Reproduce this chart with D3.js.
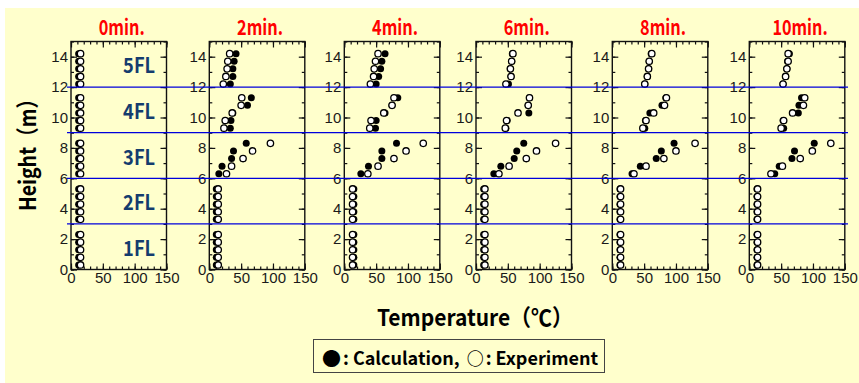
<!DOCTYPE html>
<html>
<head>
<meta charset="utf-8">
<script src="https://cdn.jsdelivr.net/npm/d3@7"></script>
<style>
  html, body { margin: 0; padding: 0; background: #fff; }
  svg { display: block; }
</style>
</head>
<body>
<svg id="chart" width="859" height="383"></svg>
<script>
// Measurement heights (m), bottom to top, five per floor
const heights = [0.3, 0.8, 1.3, 1.8, 2.3,
                 3.3, 3.8, 4.3, 4.8, 5.3,
                 6.3, 6.8, 7.3, 7.8, 8.3,
                 9.3, 9.8, 10.3, 10.8, 11.3,
                 12.2, 12.7, 13.2, 13.7, 14.2];

const panelTitles = ["0min.", "2min.", "4min.", "6min.", "8min.", "10min."];
const floorLabels = ["1FL", "2FL", "3FL", "4FL", "5FL"];
const floorLines = [3, 6, 9, 12];
const xTicks = [0, 50, 100, 150];
const yTicks = [0, 2, 4, 6, 8, 10, 12, 14];

// Temperatures (°C) at each height, calculated
const calc0 = [12,12,12,12,12, 12,12,12,12,12, 12,12,12,12,12, 12,12,12,12,12, 12,12,12,12,12];
const calc2 = [11,11,11,11,11, 11,11,11,11,11, 15,20,35,38,58, 33,34,37,60,66, 33,37,37,39,42];
const calc4 = [15,15,15,15,15, 15,15,15,15,15, 26,38,59,59,82, 49,50,64,75,84, 50,54,57,59,64];
const calc6 = [12,12,12,12,12, 12,12,12,12,12, 28,39,60,64,75, 47,49,83,82,84, 51,55,54,56,57];
const calc8 = [12,12,12,12,12, 12,12,12,12,12, 31,44,69,77,97, 51,52,59,78,84, 51,55,57,58,61];
const calc10 = [12,12,12,12,12, 12,12,12,12,12, 40,47,67,71,102, 54,53,77,78,82, 53,57,59,60,63];

// Temperatures (°C) at each height, measured
const exp0 = [15,15,15,15,15, 15,15,15,15,15, 15,15,15,15,15, 15,15,15,15,15, 15,15,15,15,15];
const exp2 = [14,14,14,14,14, 14,14,14,14,14, 27,35,53,68,96, 23,25,36,50,51, 22,26,28,29,32];
const exp4 = [13,13,13,13,13, 13,13,13,13,13, 37,53,78,97,124, 40,42,62,75,78, 41,46,47,49,53];
const exp6 = [14,14,14,14,14, 14,14,14,14,14, 36,52,79,95,125, 46,48,66,82,84, 47,55,54,56,58];
const exp8 = [13,13,13,13,13, 13,13,13,13,13, 34,53,81,100,130, 48,53,65,82,85, 51,55,57,58,62];
const exp10 = [13,13,13,13,13, 13,13,13,13,13, 34,52,80,99,128, 50,54,68,85,87, 53,57,59,61,61];

const calcSeries = [calc0, calc2, calc4, calc6, calc8, calc10];
const expSeries = [exp0, exp2, exp4, exp6, exp8, exp10];

// ---- layout ----
const svg = d3.select("#chart");
const boldFont = "'Noto Sans CJK JP', 'Noto Sans', sans-serif";
const tickFont = "'Liberation Sans', Arial, sans-serif";
const panelLeft = [71, 209.3, 344.3, 476, 612.3, 749.3];
const panelW = 95.5;

svg.append("rect").attr("x", 5).attr("y", 8).attr("width", 854).attr("height", 375)
  .attr("fill", "#FFFFCC");

const y = d3.scaleLinear().domain([0, 15]).range([269.5, 41.5]);

panelTitles.forEach((title, i) => {
  const x = d3.scaleLinear().domain([0, 150]).range([panelLeft[i], panelLeft[i] + panelW]);
  const g = svg.append("g");

  // minor and major ticks on all four sides, pointing inward
  const minorX = d3.range(0, 151, 10);
  const minorY = d3.range(0, 16, 1);
  const addAxis = (axis, tx, ty) => {
    const a = g.append("g").attr("transform", `translate(${tx},${ty})`).call(axis);
    a.select(".domain").remove();
    a.selectAll("line").attr("stroke", "#111").attr("stroke-width", 1.2);
    a.selectAll("text").attr("font-family", tickFont).attr("font-size", 15).attr("fill", "#1a1a1a");
    return a;
  };
  addAxis(d3.axisBottom(x).tickValues(minorX).tickSizeInner(-3).tickFormat(""), 0, y(0));
  addAxis(d3.axisBottom(x).tickValues(xTicks).tickSizeInner(-6).tickPadding(3).tickFormat(d3.format("d")), 0, y(0));
  addAxis(d3.axisTop(x).tickValues(minorX).tickSizeInner(-3).tickFormat(""), 0, y(15));
  addAxis(d3.axisTop(x).tickValues(xTicks).tickSizeInner(-6).tickFormat(""), 0, y(15));
  addAxis(d3.axisLeft(y).tickValues(minorY).tickSizeInner(-3).tickFormat(""), x(0), 0);
  addAxis(d3.axisLeft(y).tickValues(yTicks).tickSizeInner(-6).tickPadding(3).tickFormat(d3.format("d")), x(0), 0);
  addAxis(d3.axisRight(y).tickValues(minorY).tickSizeInner(-3).tickFormat(""), x(150), 0);
  addAxis(d3.axisRight(y).tickValues(yTicks).tickSizeInner(-6).tickFormat(""), x(150), 0);

  g.append("rect")
    .attr("x", x(0)).attr("y", y(15))
    .attr("width", x(150) - x(0)).attr("height", y(0) - y(15))
    .attr("fill", "none").attr("stroke", "#111").attr("stroke-width", 1.4);

  // condensed bold panel title
  g.append("text")
    .attr("x", (x(0) + x(150)) / 2 + 3).attr("y", 35)
    .attr("text-anchor", "middle")
    .attr("font-family", boldFont).attr("font-weight", 700).attr("font-size", 21)
    .attr("textLength", title.length * 9.2).attr("lengthAdjust", "spacingAndGlyphs")
    .attr("fill", "#FF0000")
    .text(title);

  if (i === 0) {
    g.selectAll("text.floor").data(floorLabels).join("text")
      .attr("class", "floor")
      .attr("x", x(107)).attr("y", (d, k) => y(k * 3 + 1.5))
      .attr("text-anchor", "middle").attr("dominant-baseline", "central")
      .attr("font-family", boldFont).attr("font-weight", 700).attr("font-size", 21)
      .attr("textLength", 32).attr("lengthAdjust", "spacingAndGlyphs")
      .attr("fill", "#143C6E")
      .text(d => d);
  }

  const pts = heights.map((h, k) => ({ h, c: calcSeries[i][k], e: expSeries[i][k] }));
  g.selectAll("circle.calc").data(pts).join("circle")
    .attr("class", "calc")
    .attr("cx", d => x(d.c)).attr("cy", d => y(d.h)).attr("r", 3.5)
    .attr("fill", "#000");
  g.selectAll("circle.exp").data(pts).join("circle")
    .attr("class", "exp")
    .attr("cx", d => x(d.e)).attr("cy", d => y(d.h)).attr("r", 3.2)
    .attr("fill", "#fff").attr("stroke", "#000").attr("stroke-width", 1.3);
});

// floor boundaries across all panels
svg.selectAll("line.floorline").data(floorLines).join("line")
  .attr("class", "floorline")
  .attr("x1", 67).attr("x2", 848)
  .attr("y1", d => y(d)).attr("y2", d => y(d))
  .attr("stroke", "#0000DC").attr("stroke-width", 1.3);

// axis titles
svg.append("text")
  .attr("transform", `translate(26,150) rotate(-90)`)
  .attr("text-anchor", "middle").attr("dominant-baseline", "central")
  .attr("font-family", boldFont).attr("font-weight", 700).attr("font-size", 23)
  .attr("textLength", 122).attr("lengthAdjust", "spacingAndGlyphs")
  .attr("fill", "#000")
  .text("Height（m）");

svg.append("text")
  .attr("x", 475).attr("y", 316)
  .attr("text-anchor", "middle").attr("dominant-baseline", "central")
  .attr("font-family", boldFont).attr("font-weight", 700).attr("font-size", 23)
  .attr("textLength", 196).attr("lengthAdjust", "spacingAndGlyphs")
  .attr("fill", "#000")
  .text("Temperature（℃）");

// legend: one text line built from its pieces
svg.append("rect")
  .attr("x", 313.5).attr("y", 339.5).attr("width", 291).attr("height", 33)
  .attr("fill", "#FFFFCC").attr("stroke", "#444").attr("stroke-width", 1);
const legendText = svg.append("text")
  .attr("x", 322).attr("y", 357)
  .attr("dominant-baseline", "central")
  .attr("font-family", boldFont).attr("font-weight", 700).attr("font-size", 18)
  .attr("fill", "#000");
legendText.append("tspan").attr("font-size", 19).text("●");
legendText.append("tspan").attr("dx", 2).text(":");
legendText.append("tspan").attr("dx", 4).text("Calculation,");
legendText.append("tspan").attr("dx", 7).attr("font-size", 17).text("○");
legendText.append("tspan").attr("dx", 2).text(":");
legendText.append("tspan").attr("dx", 4).text("Experiment");
</script>
</body>
</html>
